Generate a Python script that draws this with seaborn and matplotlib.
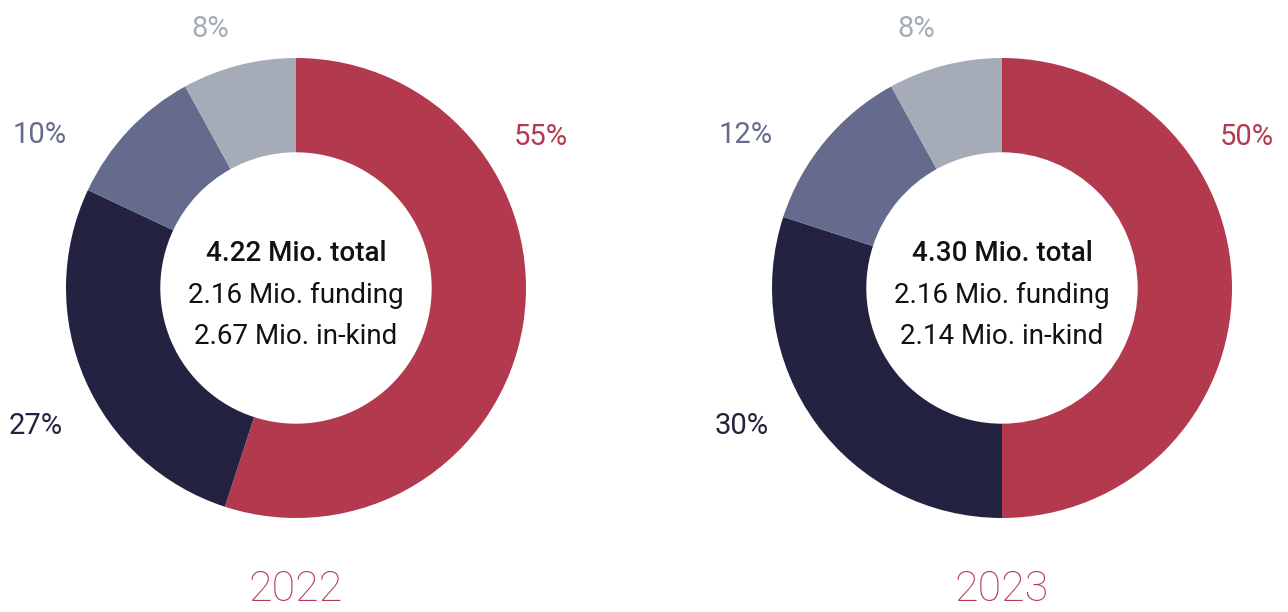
import matplotlib
matplotlib.use("Agg")
import matplotlib.pyplot as plt
import seaborn as sns
import numpy as np

years = ["2022", "2023"]
shares_2022 = [55, 27, 10, 8]
shares_2023 = [50, 30, 12, 8]
totals = ["4.22 Mio. total", "4.30 Mio. total"]
funding = ["2.16 Mio. funding", "2.16 Mio. funding"]
inkind = ["2.67 Mio. in-kind", "2.14 Mio. in-kind"]

colors = ["#B33A4E", "#232341", "#646B8C", "#A6ACB7"]
label_colors = ["#B33A4E", "#232341", "#646B8C", "#A6ACB7"]
# fixed label positions (angle in degrees, radius relative to outer radius)
label_angles = [31.6, 208, 149.2, 108.3]
label_radii = [1.25, 1.28, 1.30, 1.185]

sns.set_theme(style="white")
plt.rcParams['font.family'] = ['Roboto', 'DejaVu Sans']

W, H = 1288, 612
fig = plt.figure(figsize=(W / 100, H / 100), dpi=100)
centers = [(296, 288), (1002, 288)]
R = 230

for i, (shares, (cx, cy)) in enumerate(zip([shares_2022, shares_2023], centers)):
    ax = fig.add_axes([(cx - R) / W, (H - cy - R) / H, 2 * R / W, 2 * R / H])
    ax.pie(shares, colors=colors, startangle=90, counterclock=False, radius=1,
           wedgeprops=dict(width=0.41, linewidth=0))
    ax.set_xlim(-1, 1)
    ax.set_ylim(-1, 1)
    ax.set_aspect('equal')
    ax.axis('off')
    for j, v in enumerate(shares):
        a = np.deg2rad(label_angles[j])
        r = label_radii[j]
        ax.text(r * np.cos(a), r * np.sin(a), f"{v}%", ha='center', va='center',
                fontsize=21, fontweight='normal', color=label_colors[j], clip_on=False)
    ax.text(0, 0.15, totals[i], ha='center', va='center', fontsize=20,
            fontweight='medium', color='#111111')
    ax.text(0, -0.033, funding[i], ha='center', va='center', fontsize=20,
            color='#111111')
    ax.text(0, -0.21, inkind[i], ha='center', va='center', fontsize=20,
            color='#111111')
    ax.text(0, -1.31, years[i], ha='center', va='center', fontsize=31,
            fontweight='light', color='#B33A4E', clip_on=False)

fig.savefig("out.png", dpi=100, facecolor='white')
